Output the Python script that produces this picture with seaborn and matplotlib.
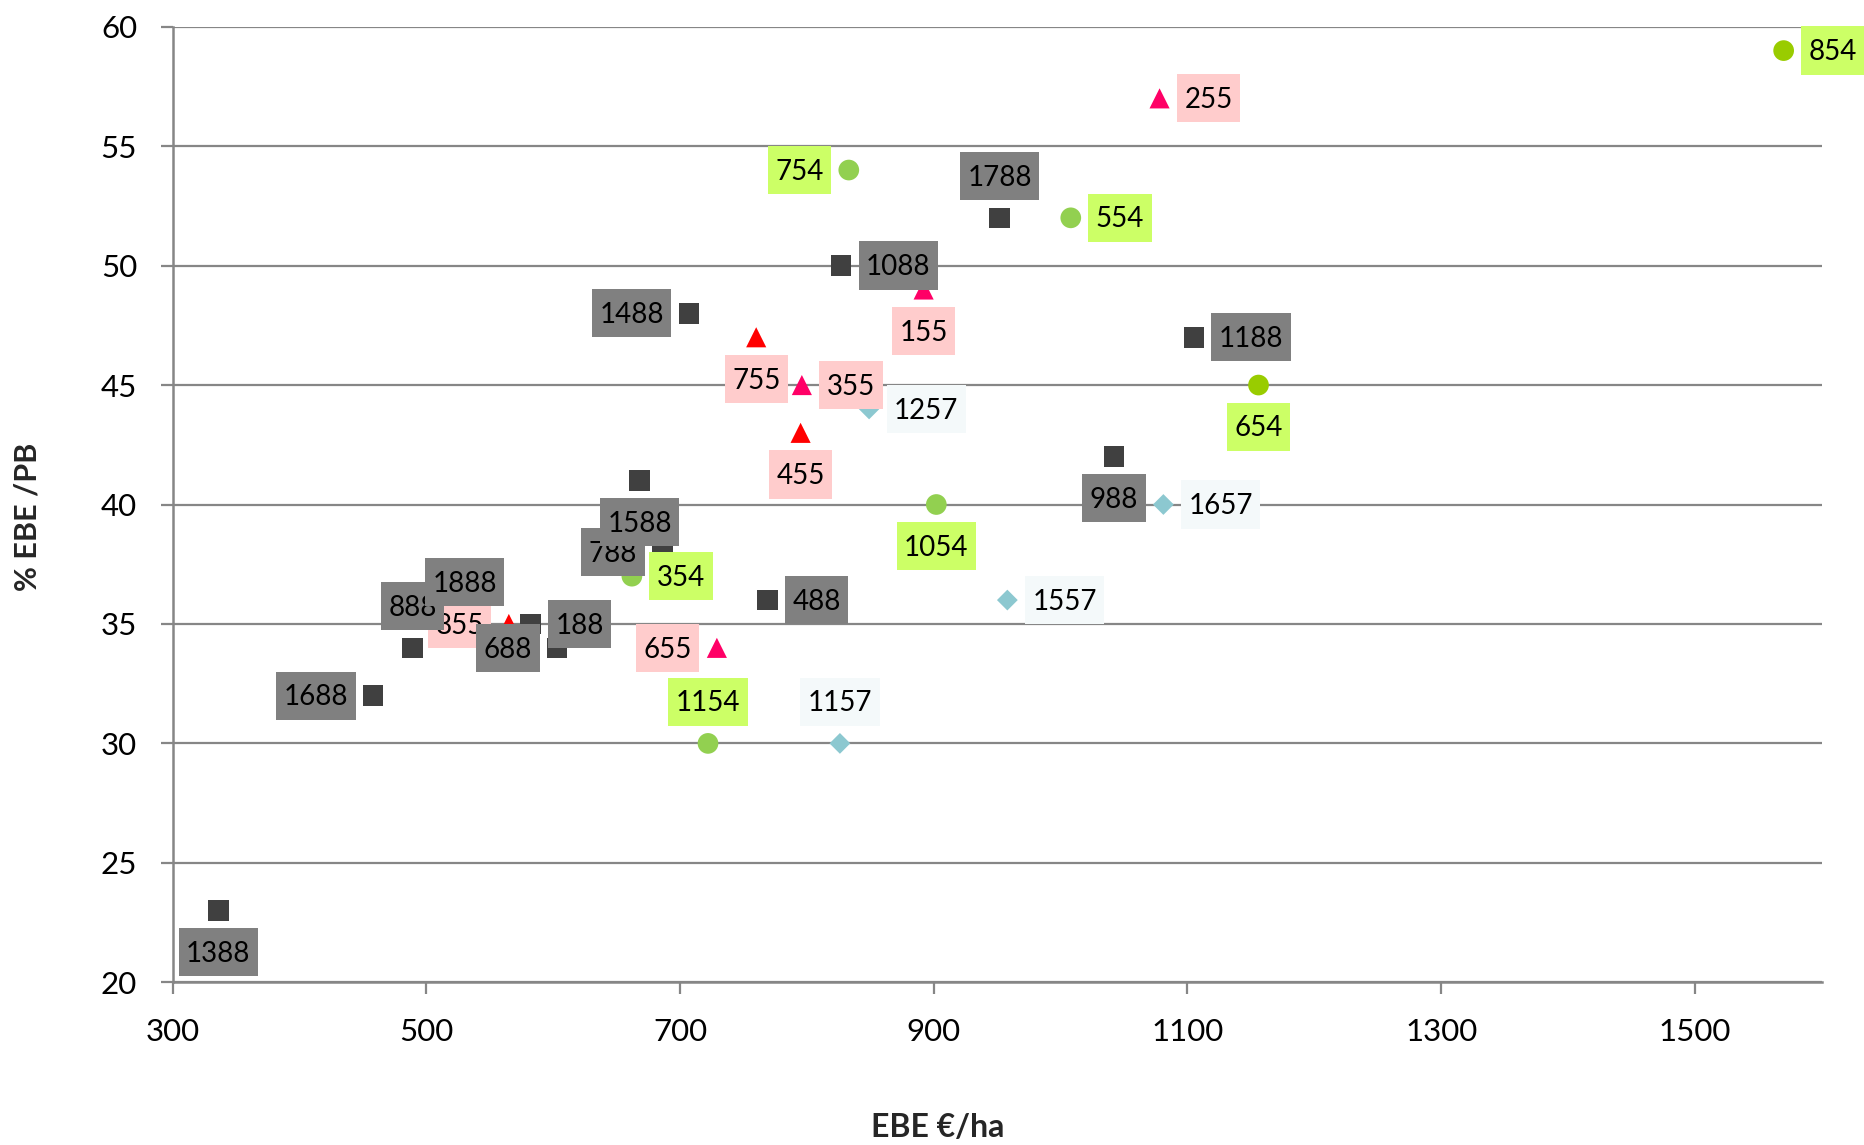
import matplotlib
matplotlib.use("Agg")
import matplotlib.pyplot as plt
from matplotlib.path import Path
import seaborn as sns
import pandas as pd

# === data ===
# circles, "x54" farms
circ_lab = ["854", "754", "554", "654", "1054", "354", "1154"]
circ_x = [1570, 833, 1008, 1156, 902, 662, 722]
circ_y = [59, 54, 52, 45, 40, 37, 30]

# triangles, "x55" farms
tri_lab = ["255", "155", "755", "355", "455", "655", "855"]
tri_x = [1078, 892, 760, 796, 795, 729, 565]
tri_y = [57, 49, 47, 45, 43, 34, 35]

# diamonds, "x57" farms
dia_lab = ["1257", "1657", "1557", "1157"]
dia_x = [849, 1081, 958, 826]
dia_y = [44, 40, 36, 30]

# squares, "x88" farms
sq_lab = ["1388", "1688", "888", "1888", "188", "688", "788",
          "1588", "1488", "488", "1088", "1788", "988", "1188"]
sq_x = [336, 458, 489, 530, 582, 603, 686, 668, 707, 769, 827, 952, 1042, 1105]
sq_y = [23, 32, 34, 35, 35, 34, 38, 41, 48, 36, 50, 52, 42, 47]

x_ticks = [300, 500, 700, 900, 1100, 1300, 1500]
y_ticks = [20, 25, 30, 35, 40, 45, 50, 55, 60]

# label placement (style, not data)
circ_pos = ["right", "left", "right", "below", "below", "right", "above"]
tri_pos = ["right", "below", "below", "right", "below", "left", "left"]
dia_pos = ["right", "right", "right", "above"]
sq_pos = ["below", "left", "above", "above", "right", "left", "left",
          "below", "left", "right", "right", "above", "below", "right"]

GREEN, OLIVE = "#92D050", "#99CC00"
RED, PINK = "#FF0000", "#FF0066"
circ_col = [OLIVE, GREEN, GREEN, OLIVE, GREEN, GREEN, GREEN]
tri_col = [PINK, PINK, RED, PINK, RED, PINK, RED]
dia_col = ["#8CC8D0"] * 4
sq_col = ["#404040"] * 14

series = [
    ("circle", circ_lab, circ_x, circ_y, circ_col, circ_pos, "#CCFF66"),
    ("triangle", tri_lab, tri_x, tri_y, tri_col, tri_pos, "#FFCCCC"),
    ("diamond", dia_lab, dia_x, dia_y, dia_col, dia_pos, "#F4F9FA"),
    ("square", sq_lab, sq_x, sq_y, sq_col, sq_pos, "#808080"),
]

rows = []
for shape, labs, xs, ys, cols, poss, bg in series:
    for lab, x, y, c, p in zip(labs, xs, ys, cols, poss):
        rows.append(dict(shape=shape, label=lab, x=x, y=y, colour=c, pos=p, bg=bg))
df = pd.DataFrame(rows)

sns.set_theme(style="white")
plt.rcParams["font.family"] = ["Lato", "DejaVu Sans"]

fig = plt.figure(figsize=(18.64, 11.45), dpi=100)
ax = fig.add_axes([0.09265, 0.14209, 0.88466, 0.83459])

palette = {c: c for c in df["colour"].unique()}
sns.scatterplot(data=df, x="x", y="y", hue="colour", palette=palette,
                style="shape",
                markers={"circle": "o", "triangle": "^", "diamond": "D", "square": "s"},
                size="shape",
                sizes={"circle": 222, "triangle": 210, "diamond": 112, "square": 218},
                linewidth=0, legend=False, zorder=3, ax=ax)

# === data labels ===
FS = 20
HP, VP, DY = 0.27, 0.40, 0.06   # box padding, fractions of font size


def label_box(x0, y0, width, height, mutation_size):
    # excel-like label box: less side padding, digits centred vertically
    hp, vp, d = HP * mutation_size, VP * mutation_size, DY * mutation_size
    xa, xb = x0 - hp, x0 + width + hp
    ya, yb = y0 - vp + d, y0 + height + vp + d
    return Path([(xa, ya), (xb, ya), (xb, yb), (xa, yb), (xa, ya)], closed=True)


gap = 12.6
hp_pt, vp_pt, d_pt = HP * FS, VP * FS, DY * FS
place = {
    "right": ((gap + hp_pt, -d_pt), "left", "center"),
    "left": ((-gap - hp_pt, -d_pt), "right", "center"),
    "above": ((0, gap + vp_pt - d_pt), "center", "bottom"),
    "below": ((0, -gap - vp_pt - d_pt), "center", "top"),
}
for _, r in df.iterrows():
    xy, ha, va = place[r["pos"]]
    ax.annotate(r["label"], (r["x"], r["y"]), xytext=xy, textcoords="offset points",
                ha=ha, va=va, fontsize=FS, color="black", zorder=5,
                annotation_clip=False,
                bbox=dict(boxstyle=label_box, fc=r["bg"], ec="none"))

# === axes ===
ax.set_xlim(300, 1600)
ax.set_ylim(20, 60)
ax.set_xticks(x_ticks)
ax.set_yticks(y_ticks)
ax.yaxis.grid(True, color="#868686", linewidth=1.6)
ax.xaxis.grid(False)
ax.set_axisbelow(True)
for s in ["top", "right"]:
    ax.spines[s].set_visible(False)
for s in ["left", "bottom"]:
    ax.spines[s].set_color("#868686")
    ax.spines[s].set_linewidth(1.8)
ax.tick_params(axis="both", direction="out", length=8.6, width=1.6,
               color="#868686", pad=17, labelsize=22.5, labelcolor="black",
               bottom=True, left=True)
ax.set_xlabel("")
ax.set_ylabel("")

fig.text(0.503, 0.0157, "EBE €/ha", ha="center", va="center",
         fontsize=23, fontweight="bold")
fig.text(0.0148, 0.5485, "% EBE /PB", ha="center", va="center",
         rotation=90, fontsize=22, fontweight="bold")

fig.savefig("out.png", dpi=100)
